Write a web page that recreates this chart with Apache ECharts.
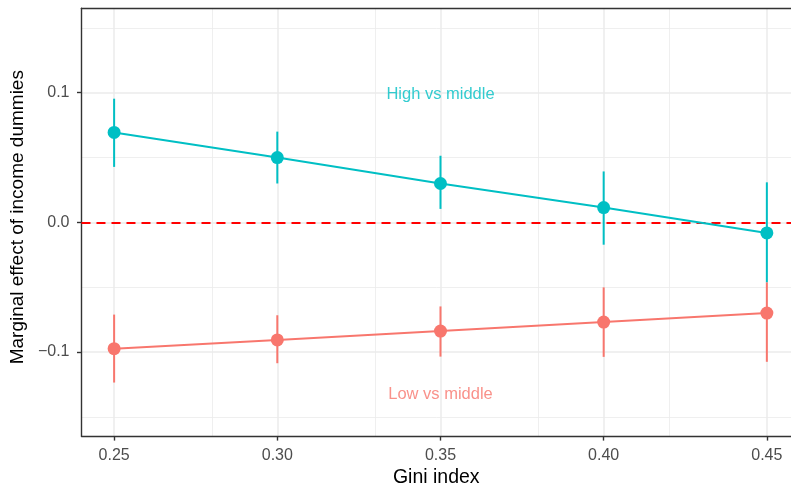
<!DOCTYPE html>
<html>
<head>
<meta charset="utf-8">
<script src="https://cdn.jsdelivr.net/npm/echarts@6/dist/echarts.min.js"></script>
<style>html,body{margin:0;padding:0;background:#fff;overflow:hidden;}#c{width:791px;height:493px;}</style>
</head>
<body>
<div id="c"></div>
<script>
const giniValues = [0.25, 0.30, 0.35, 0.40, 0.45];
const highEst = [0.0694, 0.0500, 0.0300, 0.0114, -0.0081];
const highLo  = [0.0428, 0.0300, 0.0104, -0.0172, -0.0463];
const highHi  = [0.0954, 0.0700, 0.0514, 0.0393, 0.0309];
const lowEst  = [-0.0974, -0.0906, -0.0838, -0.0769, -0.0699];
const lowLo   = [-0.1235, -0.1086, -0.1035, -0.1037, -0.1075];
const lowHi   = [-0.0711, -0.0716, -0.0648, -0.0501, -0.0463];
const xTicks = [0.25, 0.30, 0.35, 0.40, 0.45];
const xMinor = [0.275, 0.325, 0.375, 0.425];
const yTicks = [-0.1, 0, 0.1];
const yMinor = [-0.15, -0.05, 0.05, 0.15];
const annotations = [
  {name: 'High vs middle', x: 0.35, y: 0.0985, color: '#00BFC4'},
  {name: 'Low vs middle', x: 0.35, y: -0.1325, color: '#F8766D'}
];
const refLine = 0;

const HIGH = '#00BFC4', LOW = '#F8766D';
const FONT = '"Liberation Sans", Arial, sans-serif';

function pts(est) { return giniValues.map((g, i) => [g, est[i]]); }
function bars(lo, hi) { return giniValues.map((g, i) => [g, lo[i], hi[i]]); }

function errRender(color) {
  return function (params, api) {
    const p1 = api.coord([api.value(0), api.value(1)]);
    const p2 = api.coord([api.value(0), api.value(2)]);
    return {
      type: 'line',
      shape: {x1: p1[0], y1: p1[1], x2: p2[0], y2: p2[1]},
      style: {stroke: color, lineWidth: 2}
    };
  };
}

const gridLines = [];
xTicks.forEach(v => gridLines.push({xAxis: v, lineStyle: {width: 1.5, color: '#EBEBEB', type: 'solid'}}));
xMinor.forEach(v => gridLines.push({xAxis: v, lineStyle: {width: 0.8, color: '#EBEBEB', type: 'solid'}}));
yTicks.forEach(v => gridLines.push({yAxis: v, lineStyle: {width: 1.5, color: '#EBEBEB', type: 'solid'}}));
yMinor.forEach(v => gridLines.push({yAxis: v, lineStyle: {width: 0.8, color: '#EBEBEB', type: 'solid'}}));

const el = document.getElementById('c');
const chart = echarts.init(el, null, {renderer: 'canvas'});
chart.setOption({
  animation: false,
  backgroundColor: '#fff',
  grid: {left: 80.5, top: 8.3, right: 0, bottom: 50.3, show: false, containLabel: false},
  xAxis: [{
    type: 'value', min: 0.24, max: 0.4574,
    name: 'Gini index', nameLocation: 'middle', nameGap: 31,
    nameTextStyle: {fontFamily: FONT, fontSize: 19.5, color: '#000'},
    axisLine: {show: true, onZero: false, lineStyle: {color: '#333333', width: 1.4}},
    axisTick: {show: true, length: 4.5, customValues: xTicks, lineStyle: {color: '#333333', width: 1.4}},
    axisLabel: {show: true, customValues: xTicks, margin: 11, fontFamily: FONT, fontSize: 16, color: '#4D4D4D',
      formatter: v => v.toFixed(2)},
    splitLine: {show: false}, minorSplitLine: {show: false}
  }, {
    type: 'value', position: 'top', min: 0.24, max: 0.4574,
    axisLine: {show: true, onZero: false, lineStyle: {color: '#333333', width: 1.4}},
    axisTick: {show: false}, axisLabel: {show: false}, splitLine: {show: false}
  }],
  yAxis: {
    type: 'value', min: -0.1648, max: 0.1651,
    name: 'Marginal effect of income dummies', nameLocation: 'middle', nameGap: 46, nameRotate: 90,
    nameTextStyle: {fontFamily: FONT, fontSize: 19, color: '#000', padding: [0, 0, 0, 10]},
    axisLine: {show: true, onZero: false, lineStyle: {color: '#333333', width: 1.4}},
    axisTick: {show: true, length: 4.5, customValues: yTicks, lineStyle: {color: '#333333', width: 1.4}},
    axisLabel: {show: true, customValues: yTicks, margin: 12, fontFamily: FONT, fontSize: 16, color: '#4D4D4D',
      formatter: v => v.toFixed(1).replace('-', '\u2212')},
    splitLine: {show: false}, minorSplitLine: {show: false}
  },
  series: [
    {
      type: 'line', data: [], silent: true, z: 0,
      markLine: {silent: true, symbol: 'none', z: 0, animation: false, label: {show: false}, emphasis: {disabled: true}, data: gridLines}
    },
    {
      type: 'line', data: [], silent: true, z: 1,
      markLine: {silent: true, symbol: 'none', z: 1, animation: false, label: {show: false}, emphasis: {disabled: true},
        data: [{yAxis: refLine, lineStyle: {color: '#FF0000', width: 2, type: [9, 6]}}]}
    },
    {type: 'custom', name: 'High err', data: bars(highLo, highHi), renderItem: errRender(HIGH), z: 2, silent: true},
    {type: 'custom', name: 'Low err', data: bars(lowLo, lowHi), renderItem: errRender(LOW), z: 2, silent: true},
    {type: 'line', name: 'High vs middle', data: pts(highEst), z: 3, color: HIGH,
      lineStyle: {color: HIGH, width: 2}, symbol: 'circle', symbolSize: 13, showSymbol: true,
      itemStyle: {color: HIGH}},
    {type: 'line', name: 'Low vs middle', data: pts(lowEst), z: 3, color: LOW,
      lineStyle: {color: LOW, width: 2}, symbol: 'circle', symbolSize: 13, showSymbol: true,
      itemStyle: {color: LOW}},
    {type: 'scatter', silent: true, z: 4, symbolSize: 0,
      data: annotations.map(a => ({value: [a.x, a.y], name: a.name,
        label: {show: true, position: 'inside', formatter: a.name, color: a.color, fontFamily: FONT, fontSize: 16.5}}))}
  ]
});
</script>
</body>
</html>
